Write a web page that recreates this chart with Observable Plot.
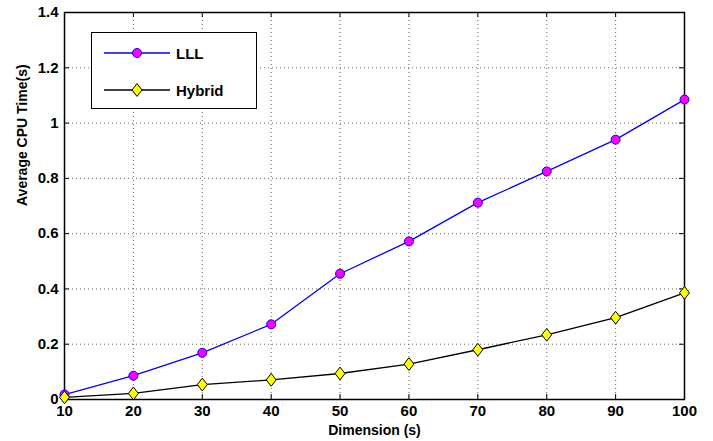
<!DOCTYPE html>
<html>
<head>
<meta charset="utf-8">
<script src="https://cdn.jsdelivr.net/npm/d3@7"></script>
<script src="https://cdn.jsdelivr.net/npm/@observablehq/plot@0.6"></script>
<style>
  html, body { margin: 0; padding: 0; background: #fff; }
  #wrap { position: relative; width: 713px; height: 441px; }
  #legend { position: absolute; left: 91px; top: 32px; width: 166px; height: 77px;
    border: 1.3px solid #000; background: #fff; box-sizing: border-box;
    font-family: "Liberation Sans", Arial, sans-serif; font-weight: bold; font-size: 15px; }
  .row { position: absolute; left: 12px; height: 20px; display: flex; align-items: center; }
  .row span { margin-left: 6px; }
</style>
</head>
<body>
<div id="wrap"></div>
<script>
const dimensions = [10, 20, 30, 40, 50, 60, 70, 80, 90, 100];
const lllTimes = [0.018, 0.086, 0.169, 0.272, 0.455, 0.572, 0.712, 0.825, 0.940, 1.085];
const hybridTimes = [0.008, 0.022, 0.054, 0.071, 0.094, 0.128, 0.180, 0.234, 0.296, 0.386];
const xTicks = [10, 20, 30, 40, 50, 60, 70, 80, 90, 100];
const yTicks = [0, 0.2, 0.4, 0.6, 0.8, 1, 1.2, 1.4];
const seriesNames = ["LLL", "Hybrid"];

const W = 713, H = 441;
const mL = 64, mR = 29, mT = 12, mB = 42;
const innerH = H - mT - mB, innerW = W - mL - mR;

const lll = dimensions.map((d, i) => ({x: d, y: lllTimes[i]}));
const hyb = dimensions.map((d, i) => ({x: d, y: hybridTimes[i]}));
const font = '"Liberation Sans", Arial, sans-serif';

const wideDiamond = {
  draw(ctx, size) {
    const h = Math.sqrt(size) * 0.9, w = h * 0.78;
    ctx.moveTo(0, -h); ctx.lineTo(w, 0); ctx.lineTo(0, h); ctx.lineTo(-w, 0); ctx.closePath();
  }
};

const chart = Plot.plot({
  width: W, height: H,
  marginLeft: mL, marginRight: mR, marginTop: mT, marginBottom: mB,
  style: {fontFamily: font, fontWeight: "bold", fontSize: "14px", color: "#000", background: "#fff"},
  x: {domain: [10, 100], ticks: xTicks, tickFormat: d => String(d), label: null},
  y: {domain: [0, 1.4], ticks: yTicks, tickFormat: d => String(+d.toFixed(1)), label: null},
  marks: [
    Plot.ruleX(xTicks.slice(1, -1), {stroke: "#666", strokeWidth: 1, strokeDasharray: "1,3"}),
    Plot.ruleY(yTicks.slice(1, -1), {stroke: "#666", strokeWidth: 1, strokeDasharray: "1,3"}),
    Plot.tickX(xTicks, {x: d => d, insetTop: innerH - 5, stroke: "#000"}),
    Plot.tickX(xTicks, {x: d => d, insetBottom: innerH - 5, stroke: "#000"}),
    Plot.tickY(yTicks, {y: d => d, insetRight: innerW - 5, stroke: "#000"}),
    Plot.tickY(yTicks, {y: d => d, insetLeft: innerW - 5, stroke: "#000"}),
    Plot.axisX({ticks: xTicks, tickSize: 0, tickPadding: 6, tickFormat: d => String(d), fontSize: 15, label: null}),
    Plot.axisY({ticks: yTicks, tickSize: 0, tickPadding: 6, tickFormat: d => String(+d.toFixed(1)), fontSize: 15, label: null}),
    Plot.frame({stroke: "#000", strokeWidth: 1.5}),
    Plot.line(lll, {x: "x", y: "y", stroke: "#0000ff", strokeWidth: 1.3}),
    Plot.line(hyb, {x: "x", y: "y", stroke: "#000", strokeWidth: 1.3}),
    Plot.dot(lll, {x: "x", y: "y", r: 4.5, fill: "#ff00ff", stroke: "#0000ff", strokeWidth: 1}),
    Plot.dot(hyb, {x: "x", y: "y", r: 4, symbol: wideDiamond, fill: "#ffff00", stroke: "#000", strokeWidth: 1}),
    Plot.text(["Dimension (s)"], {frameAnchor: "bottom", dy: 35, fontSize: 14, fontWeight: "bold"}),
    Plot.text(["Average CPU Time(s)"], {frameAnchor: "left", dx: -42, rotate: -90, fontSize: 14, fontWeight: "bold"})
  ]
});

const wrap = document.getElementById("wrap");
wrap.appendChild(chart);

const legend = document.createElement("div");
legend.id = "legend";
const sym = [
  `<svg width="66" height="20"><line x1="0" y1="10" x2="66" y2="10" stroke="#0000ff" stroke-width="1.3"/><circle cx="33" cy="10" r="4.5" fill="#ff00ff" stroke="#0000ff"/></svg>`,
  `<svg width="66" height="20"><line x1="0" y1="10" x2="66" y2="10" stroke="#000" stroke-width="1.3"/><path d="M33,3.6L38,10L33,16.4L28,10Z" fill="#ffff00" stroke="#000"/></svg>`
];
seriesNames.forEach((name, i) => {
  const row = document.createElement("div");
  row.className = "row";
  row.style.top = (i === 0 ? 10 : 47) + "px";
  row.innerHTML = sym[i] + `<span>${name}</span>`;
  legend.appendChild(row);
});
wrap.appendChild(legend);
</script>
</body>
</html>
